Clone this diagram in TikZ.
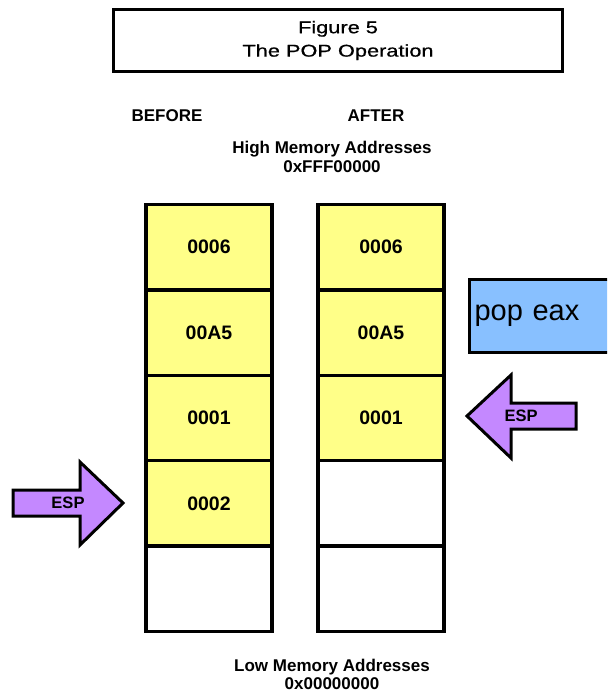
\documentclass[tikz,border=0pt]{standalone}
\usepackage{fontspec}
\setmainfont{Liberation Sans}
\newfontfamily\widefont[FakeStretch=1.28,FakeBold=0.8]{Liberation Sans}
\usetikzlibrary{positioning}
\definecolor{cellyellow}{RGB}{255,255,136}
\definecolor{esppurple}{RGB}{196,136,255}
\definecolor{popblue}{RGB}{136,192,255}

\begin{document}
\begin{tikzpicture}[x=1pt,y=-1pt]
  \tikzset{cell/.style={draw,line width=3.5pt,outer sep=0pt,inner sep=0pt,minimum width=126pt,
      minimum height=85.4pt,fill=white,font=\bfseries\fontsize{19.5}{19.5}\selectfont},
    usedcell/.style={cell,fill=cellyellow},
    addrtext/.style={font=\bfseries\fontsize{17}{18.5}\selectfont,align=center},
    espshape/.style={draw,line width=3pt,line join=miter,fill=esppurple},
    esptext/.style={font=\bfseries\fontsize{16.5}{16.5}\selectfont}}
  \clip (0,0) rectangle (607,692);
  \fill[white] (0,0) rectangle (607,692);
  \node[draw,line width=3.5pt,minimum width=449pt,minimum height=62pt,align=center,
    font=\widefont\fontsize{17}{23.4}\selectfont] (title) at (338,40.5) {Figure 5\\The POP Operation};
  \node[addrtext] (before) at (167,115.5) {BEFORE};
  \node[addrtext] (after) at (376,115.5) {AFTER};
  \node[addrtext] (high) at (332,157) {High Memory Addresses\\0xFFF00000};
  % stack before the pop
  \node[usedcell] (b1) at (209,247.2) {0006};
  \node[usedcell,below=0pt of b1] (b2) {00A5};
  \node[usedcell,below=0pt of b2] (b3) {0001};
  \node[usedcell,below=0pt of b3] (b4) {0002};
  \node[cell,below=0pt of b4] (b5) {};
  % stack after the pop
  \node[usedcell] (a1) at (381,247.2) {0006};
  \node[usedcell,below=0pt of a1] (a2) {00A5};
  \node[usedcell,below=0pt of a2] (a3) {0001};
  \node[cell,below=0pt of a3] (a4) {};
  \node[cell,below=0pt of a4] (a5) {};
  \node[addrtext] (low) at (332,674.5) {Low Memory Addresses\\0x00000000};
  \node[draw,line width=3pt,fill=popblue,anchor=west,minimum height=73pt,text width=140pt,
    inner xsep=5pt,align=left,font=\fontsize{29}{29}\selectfont] (pop) at (468,316) {pop eax};
  % ESP pointers
  \draw[espshape] (13,490) -- (80,490) -- (80,462) -- (123,503) -- (80,545) -- (80,516) -- (13,516) -- cycle;
  \node[esptext] (espb) at (68,503) {ESP};
  \draw[espshape] (576,403) -- (511,403) -- (511,375) -- (467,416) -- (511,458) -- (511,429) -- (576,429) -- cycle;
  \node[esptext] (espa) at (521,416) {ESP};
\end{tikzpicture}
\end{document}
